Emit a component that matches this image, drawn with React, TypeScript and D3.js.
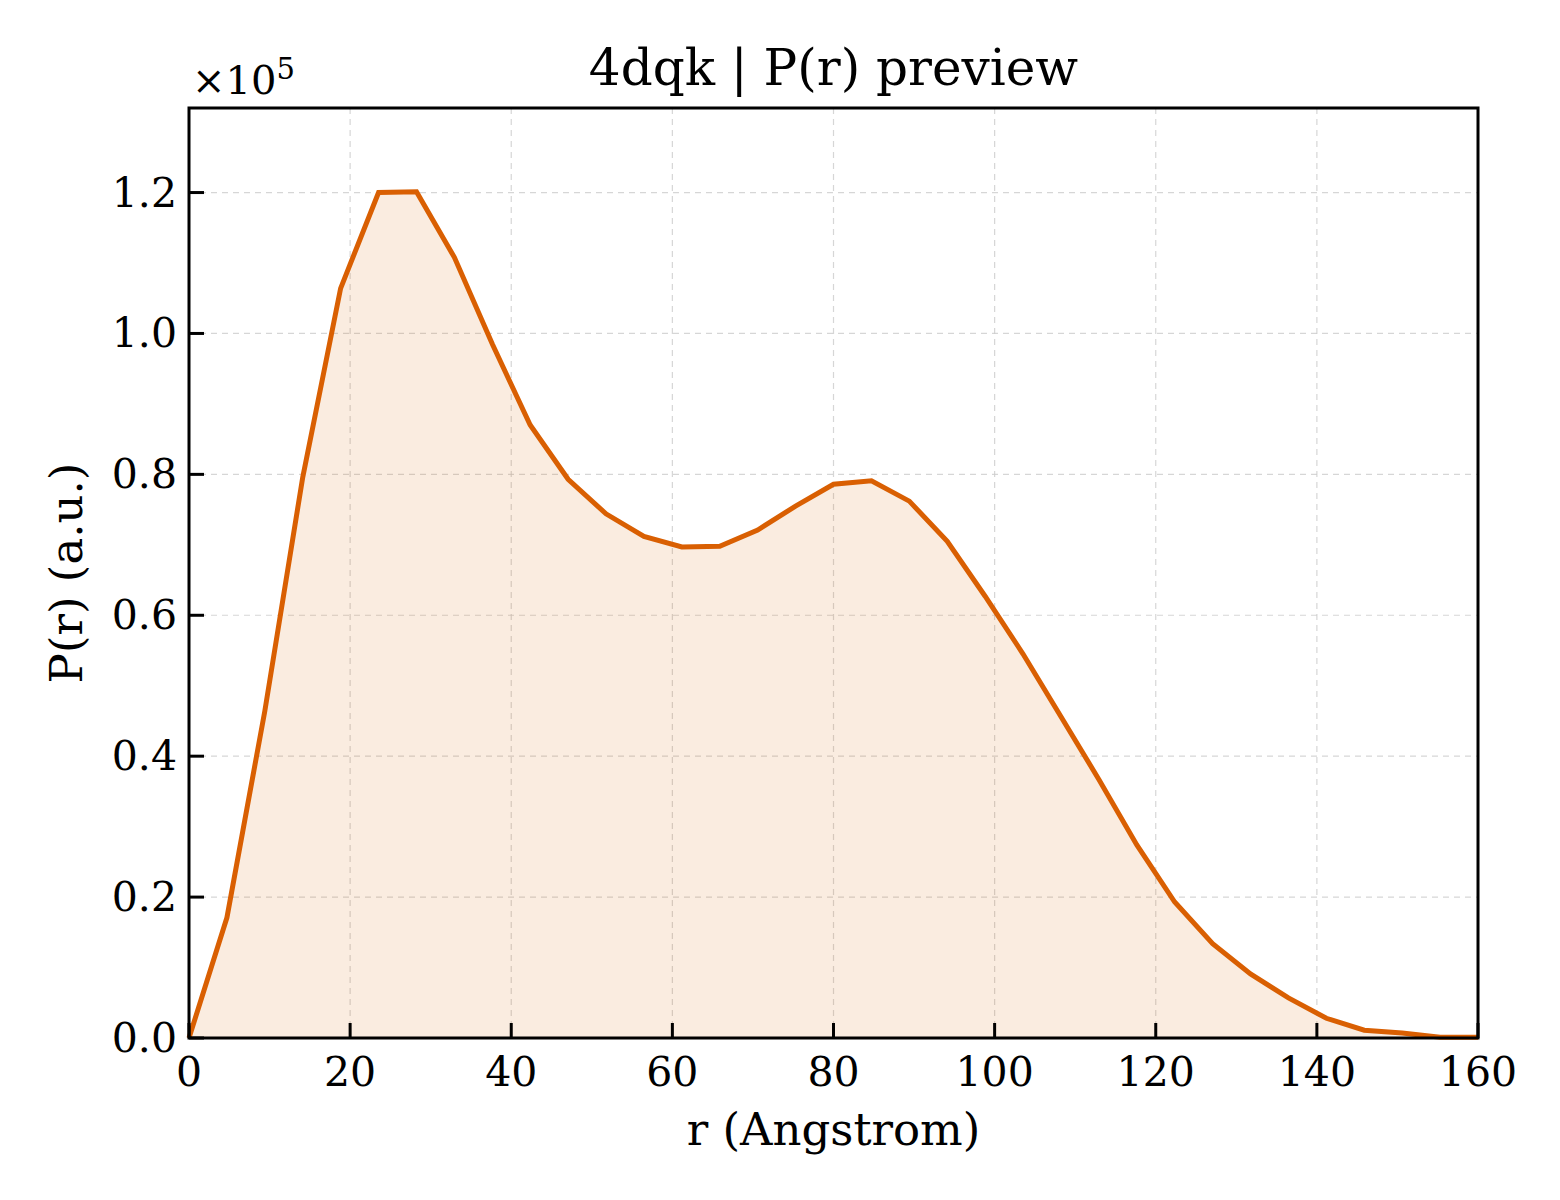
import { useEffect } from "react";
import * as d3 from "d3";

// P(r) samples, r in Angstrom, value in units of 1e5
const rValues = [
  0, 4.71, 9.41, 14.12, 18.82, 23.53, 28.24, 32.94, 37.65, 42.35, 47.06, 51.76,
  56.47, 61.18, 65.88, 70.59, 75.29, 80.0, 84.71, 89.41, 94.12, 98.82, 103.53,
  108.24, 112.94, 117.65, 122.35, 127.06, 131.76, 136.47, 141.18, 145.88,
  150.59, 155.29, 160.0,
];
const pValues = [
  0, 0.171, 0.464, 0.796, 1.064, 1.2, 1.201, 1.108, 0.985, 0.87, 0.793, 0.744,
  0.712, 0.697, 0.698, 0.721, 0.755, 0.786, 0.791, 0.762, 0.705, 0.627, 0.545,
  0.456, 0.367, 0.274, 0.193, 0.134, 0.091, 0.057, 0.028, 0.011, 0.007, 0.001,
  0.001,
];
const xTicks = [0, 20, 40, 60, 80, 100, 120, 140, 160];
const yTicks = [0, 0.2, 0.4, 0.6, 0.8, 1.0, 1.2];

const W = 1560;
const H = 1200;
const margin = { top: 108, right: 82, bottom: 162, left: 189 };
const font = "'DejaVu Serif', serif";
const lineColor = "#d95f02";

export default function App() {
  useEffect(() => {
    document.body.style.margin = "0";
  }, []);

  const x = d3.scaleLinear().domain([0, 160]).range([margin.left, W - margin.right]);
  const y = d3.scaleLinear().domain([0, 1.32]).range([H - margin.bottom, margin.top]);

  const pts = rValues.map((r, i) => [r, pValues[i]] as [number, number]);
  const line = d3.line<[number, number]>().x((d) => x(d[0])).y((d) => y(d[1]));
  const area = d3
    .area<[number, number]>()
    .x((d) => x(d[0]))
    .y0(y(0))
    .y1((d) => y(d[1]));

  const x0 = margin.left;
  const x1 = W - margin.right;
  const y0 = H - margin.bottom;
  const y1 = margin.top;

  return (
    <svg width={W} height={H} style={{ display: "block", background: "#fff" }} fontFamily={font}>
      {/* grid */}
      <g stroke="#cccccc" strokeOpacity={0.8} strokeWidth={1.2} strokeDasharray="6,5">
        {xTicks.map((t) => (
          <line key={"gx" + t} x1={x(t)} x2={x(t)} y1={y0} y2={y1} />
        ))}
        {yTicks.map((t) => (
          <line key={"gy" + t} x1={x0} x2={x1} y1={y(t)} y2={y(t)} />
        ))}
      </g>

      <path d={area(pts) ?? ""} fill={lineColor} fillOpacity={0.12} />
      <path d={line(pts) ?? ""} fill="none" stroke={lineColor} strokeWidth={5} strokeLinejoin="miter" />

      {/* frame */}
      <rect x={x0} y={y1} width={x1 - x0} height={y0 - y1} fill="none" stroke="#000" strokeWidth={3} />

      {/* ticks */}
      <g stroke="#000" strokeWidth={3}>
        {xTicks.map((t) => (
          <line key={"tx" + t} x1={x(t)} x2={x(t)} y1={y0} y2={y0 - 15} />
        ))}
        {yTicks.map((t) => (
          <line key={"ty" + t} x1={x0} x2={x0 + 15} y1={y(t)} y2={y(t)} />
        ))}
      </g>

      <g fontSize={41} fill="#000">
        {xTicks.map((t) => (
          <text key={"lx" + t} x={x(t)} y={y0 + 48} textAnchor="middle">
            {t}
          </text>
        ))}
        {yTicks.map((t) => (
          <text key={"ly" + t} x={x0 - 12} y={y(t) + 14} textAnchor="end">
            {t.toFixed(1)}
          </text>
        ))}
      </g>

      <text x={192} y={94} fontSize={40}>
        ×10
        <tspan fontSize={29} dy={-15}>5</tspan>
      </text>

      <text x={(x0 + x1) / 2} y={1145} fontSize={45} textAnchor="middle">
        r (Angstrom)
      </text>
      <text
        transform={`translate(82,${(y0 + y1) / 2}) rotate(-90)`}
        fontSize={45}
        textAnchor="middle"
      >
        P(r) (a.u.)
      </text>
      <text x={(x0 + x1) / 2} y={85} fontSize={50} textAnchor="middle">
        4dqk | P(r) preview
      </text>
    </svg>
  );
}
